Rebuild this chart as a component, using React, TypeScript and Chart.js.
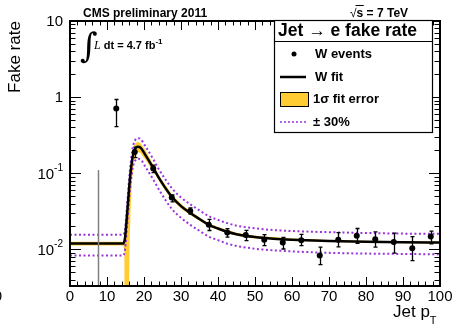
import React, { useEffect, useRef } from "react";
import { Chart, registerables } from "chart.js";

Chart.register(...registerables);

// ---- data ----
const binCenters = [12.5, 17.5, 22.5, 27.5, 32.5, 37.5, 42.5, 47.5, 52.5, 57.5, 62.5, 67.5, 72.5, 77.5, 82.5, 87.5, 92.5, 97.5];
const rateValues = [0.71, 0.19, 0.115, 0.048, 0.032, 0.021, 0.0166, 0.0154, 0.0134, 0.0123, 0.0132, 0.0083, 0.0134, 0.0151, 0.0136, 0.0125, 0.0103, 0.0147];
const rateErrUp = [0.93, 0.22, 0.128, 0.052, 0.035, 0.0247, 0.0187, 0.0178, 0.0156, 0.0144, 0.0157, 0.0107, 0.0166, 0.0188, 0.017, 0.0163, 0.0147, 0.0174];
const rateErrDown = [0.41, 0.16, 0.102, 0.042, 0.029, 0.0177, 0.0145, 0.013, 0.0112, 0.0101, 0.0112, 0.0063, 0.0108, 0.012, 0.0107, 0.0089, 0.0071, 0.0118];

// empty low bin: only its (grey) error bar upper end is visible
const greyBinX = 7.5;
const greyBinUp = 0.11;

const fitX = [0, 14.4, 14.9, 15.4, 15.9, 16.3, 16.8, 17.2, 17.7, 18.3, 19.0, 20.4, 22.6, 24.4, 27.5, 30, 32.5, 35, 37.5, 40, 42.5, 45, 50, 55, 60, 70, 80, 90, 100];
const fitY = [0.0119, 0.0119, 0.0145, 0.028, 0.057, 0.095, 0.15, 0.188, 0.212, 0.222, 0.218, 0.173, 0.115, 0.081, 0.049, 0.037, 0.03, 0.025, 0.021, 0.0188, 0.017, 0.0158, 0.0145, 0.0138, 0.0134, 0.0129, 0.0126, 0.0124, 0.0123];
const plus30Y = [0.0155, 0.0155, 0.0189, 0.0364, 0.074, 0.124, 0.195, 0.244, 0.276, 0.289, 0.283, 0.225, 0.15, 0.105, 0.064, 0.048, 0.039, 0.0325, 0.0273, 0.0244, 0.0221, 0.0205, 0.0189, 0.0179, 0.0174, 0.0168, 0.0164, 0.0161, 0.016];
const minus30Y = [0.0083, 0.0083, 0.0102, 0.0196, 0.04, 0.067, 0.105, 0.132, 0.148, 0.155, 0.153, 0.121, 0.081, 0.057, 0.034, 0.026, 0.021, 0.0175, 0.0147, 0.0132, 0.0119, 0.0111, 0.0102, 0.0097, 0.0094, 0.009, 0.0088, 0.0087, 0.0086];

const bandX = [0, 14.4, 14.7, 14.85, 15.2, 15.6, 15.9, 16.1, 16.4, 16.8, 17.2, 17.7, 18.3, 19, 20.4, 22.6, 24.4, 27.5, 30, 32.5, 35, 37.5, 40, 45, 50, 60, 70, 80, 90, 100];
const bandUp = [0.0126, 0.0126, 0.015, 0.0185, 0.028, 0.048, 0.07, 0.088, 0.125, 0.18, 0.225, 0.25, 0.26, 0.25, 0.2, 0.127, 0.088, 0.053, 0.0395, 0.0318, 0.0263, 0.022, 0.0197, 0.0165, 0.0151, 0.0139, 0.0133, 0.013, 0.0128, 0.0127];
const bandDown = [0.0112, 0.0112, 0.0095, 0.002, 0.002, 0.002, 0.002, 0.012, 0.035, 0.085, 0.135, 0.17, 0.19, 0.186, 0.15, 0.104, 0.074, 0.045, 0.0345, 0.0282, 0.0237, 0.02, 0.0179, 0.0151, 0.0139, 0.0129, 0.0125, 0.0122, 0.012, 0.0119];

const xMin = 0;
const xMax = 100;
const yMin = 0.0033;
const yMax = 10;
const xTickLabels = ["0", "10", "20", "30", "40", "50", "60", "70", "80", "90", "100"];
const yTickDecades = [1, 0, -1, -2];

const legendTitle = "Jet \u2192 e fake rate";
const legendLabels = ["W events", "W fit", "1\u03c3 fit error", "\u00b1 30%"];

const YELLOW = "#ffcc33";
const PURPLE = "#9933dd";
const FONT = "'Liberation Sans', Arial, Helvetica, sans-serif";

const pts = (xs: number[], ys: number[]) => xs.map((x, i) => ({ x, y: ys[i] }));

const rootPlugin = {
  id: "rootStyle",
  afterDatasetsDraw(chart: any) {
    const ctx = chart.ctx;
    const xs = chart.scales.x;
    const ys = chart.scales.y;
    const { top, bottom } = chart.chartArea;
    ctx.save();
    // grey bar of the empty bin
    ctx.strokeStyle = "#808080";
    ctx.lineWidth = 1.5;
    const gx = Math.round(xs.getPixelForValue(greyBinX)) + 0.5;
    ctx.beginPath();
    ctx.moveTo(gx, ys.getPixelForValue(greyBinUp));
    ctx.lineTo(gx, bottom);
    ctx.stroke();
    // error bars
    ctx.strokeStyle = "#000";
    ctx.lineWidth = 1.3;
    binCenters.forEach((x, i) => {
      const px = Math.round(xs.getPixelForValue(x)) + 0.5;
      const y1 = Math.max(top, ys.getPixelForValue(rateErrUp[i]));
      const y2 = Math.min(bottom, ys.getPixelForValue(rateErrDown[i]));
      ctx.beginPath();
      ctx.moveTo(px, y1);
      ctx.lineTo(px, y2);
      ctx.moveTo(px - 2, y1);
      ctx.lineTo(px + 2, y1);
      ctx.moveTo(px - 2, y2);
      ctx.lineTo(px + 2, y2);
      ctx.stroke();
    });
    ctx.restore();
  },
  afterDraw(chart: any) {
    const ctx = chart.ctx;
    const xs = chart.scales.x;
    const ys = chart.scales.y;
    const { left, right, top, bottom } = chart.chartArea;
    ctx.save();
    // ticks
    ctx.strokeStyle = "#000";
    ctx.lineWidth = 1;
    ctx.beginPath();
    for (let v = xMin; v <= xMax; v += 2) {
      const px = Math.round(xs.getPixelForValue(v)) + 0.5;
      const L = v % 10 === 0 ? 9 : 4.5;
      ctx.moveTo(px, bottom);
      ctx.lineTo(px, bottom - L);
      ctx.moveTo(px, top);
      ctx.lineTo(px, top + L);
    }
    for (let e = -3; e <= 1; e++) {
      for (let m = 1; m <= 9; m++) {
        const v = m * Math.pow(10, e);
        if (v < yMin || v > yMax * 1.0001) continue;
        const py = Math.round(ys.getPixelForValue(v)) + 0.5;
        const L = m === 1 ? 11 : 5.5;
        ctx.moveTo(left, py);
        ctx.lineTo(left + L, py);
        ctx.moveTo(right, py);
        ctx.lineTo(right - L, py);
      }
    }
    ctx.stroke();
    // frame
    ctx.lineWidth = 2;
    ctx.strokeRect(left, top, right - left, bottom - top);

    // tick labels
    ctx.fillStyle = "#000";
    ctx.font = `15px ${FONT}`;
    ctx.textAlign = "center";
    ctx.textBaseline = "middle";
    xTickLabels.forEach((t) => {
      ctx.fillText(t, xs.getPixelForValue(Number(t)), bottom + 11);
    });
    // y labels
    ctx.textAlign = "right";
    yTickDecades.forEach((e) => {
      const py = ys.getPixelForValue(Math.pow(10, e));
      const xr = left - 7;
      if (e === 1) {
        ctx.font = `15px ${FONT}`;
        ctx.fillText("10", xr, py + 1);
      } else if (e === 0) {
        ctx.font = `15px ${FONT}`;
        ctx.fillText("1", xr, py + 1);
      } else {
        ctx.font = `10px ${FONT}`;
        const expStr = String(e);
        const ew = ctx.measureText(expStr).width;
        ctx.fillText(expStr, xr, py - 5);
        ctx.font = `15px ${FONT}`;
        ctx.fillText("10", xr - ew, py + 2);
      }
    });
    // clipped remnant at far left bottom
    ctx.font = `15px ${FONT}`;
    ctx.textAlign = "right";
    ctx.fillText("0", 2, 297);

    // axis titles
    ctx.font = `17px ${FONT}`;
    ctx.save();
    ctx.translate(15, 57);
    ctx.rotate(-Math.PI / 2);
    ctx.textAlign = "center";
    ctx.textBaseline = "middle";
    ctx.fillText("Fake rate", 0, 0);
    ctx.restore();

    ctx.textBaseline = "alphabetic";
    ctx.textAlign = "left";
    ctx.font = `17px ${FONT}`;
    ctx.fillText("Jet p", 393, 317);
    const jw = ctx.measureText("Jet p").width;
    ctx.font = `11px ${FONT}`;
    ctx.fillText("T", 393 + jw, 324);

    // header texts
    ctx.font = `bold 12px ${FONT}`;
    ctx.textAlign = "left";
    ctx.fillText("CMS preliminary 2011", 83, 17);
    const sx = 350;
    ctx.font = `12px ${FONT}`;
    ctx.fillText("\u221a", sx, 17);
    const rw = ctx.measureText("\u221a").width;
    ctx.font = `bold 12px ${FONT}`;
    ctx.fillText("s = 7 TeV", sx + rw, 17);
    const sw = ctx.measureText("s").width;
    ctx.lineWidth = 1;
    ctx.beginPath();
    ctx.moveTo(sx + rw - 1, 5.5);
    ctx.lineTo(sx + rw + sw + 0.5, 5.5);
    ctx.stroke();

    // luminosity
    ctx.font = `34px 'DejaVu Serif', serif`;
    ctx.fillText("\u222b", 80, 57);
    ctx.font = `italic 12px 'Liberation Serif', 'Times New Roman', serif`;
    ctx.fillText("L", 94, 49);
    const lw = ctx.measureText("L").width;
    ctx.font = `bold 11px ${FONT}`;
    const lumi = " dt = 4.7 fb";
    ctx.fillText(lumi, 94 + lw, 49);
    const luw = ctx.measureText(lumi).width;
    ctx.font = `bold 8px ${FONT}`;
    ctx.fillText("-1", 94 + lw + luw, 44);

    // legend
    const lx1 = 274, lx2 = 432, ly1 = 20, ly2 = 132;
    ctx.fillStyle = "#fff";
    ctx.fillRect(lx1, ly1, lx2 - lx1, ly2 - ly1);
    ctx.strokeStyle = "#000";
    ctx.lineWidth = 1.2;
    ctx.strokeRect(lx1 + 0.5, ly1 + 0.5, lx2 - lx1, ly2 - ly1);
    ctx.beginPath();
    ctx.moveTo(lx1, 41.5);
    ctx.lineTo(lx2, 41.5);
    ctx.stroke();
    ctx.fillStyle = "#000";
    ctx.font = `bold 17.5px ${FONT}`;
    ctx.textAlign = "left";
    ctx.textBaseline = "middle";
    ctx.fillText(legendTitle, 278, 31);

    const rowY = [54, 77, 99, 122];
    // W events marker
    ctx.beginPath();
    ctx.arc(294, rowY[0], 2.5, 0, Math.PI * 2);
    ctx.fill();
    // W fit line
    ctx.lineWidth = 2.5;
    ctx.beginPath();
    ctx.moveTo(280, rowY[1]);
    ctx.lineTo(306, rowY[1]);
    ctx.stroke();
    // band box
    ctx.fillStyle = YELLOW;
    ctx.fillRect(280, 92, 28, 14);
    ctx.lineWidth = 1;
    ctx.strokeRect(280.5, 92.5, 28, 14);
    // dotted purple
    ctx.strokeStyle = PURPLE;
    ctx.lineWidth = 1.5;
    ctx.setLineDash([2, 2]);
    ctx.beginPath();
    ctx.moveTo(280, rowY[3]);
    ctx.lineTo(306, rowY[3]);
    ctx.stroke();
    ctx.setLineDash([]);

    ctx.fillStyle = "#000";
    ctx.font = `bold 13px ${FONT}`;
    ctx.fillText(legendLabels[0], 315, rowY[0]);
    ctx.fillText(legendLabels[1], 315, rowY[1]);
    ctx.fillText(legendLabels[2], 313, rowY[2]);
    ctx.fillText(legendLabels[3], 313, rowY[3]);

    ctx.restore();
  },
};

export default function App() {
  const ref = useRef<HTMLCanvasElement | null>(null);
  useEffect(() => {
    if (!ref.current) return;
    const chart = new Chart(ref.current, {
      type: "line",
      data: {
        datasets: [
          {
            label: "W events",
            data: pts(binCenters, rateValues),
            showLine: false,
            pointRadius: 3,
            pointBackgroundColor: "#000",
            pointBorderColor: "#000",
            pointBorderWidth: 0,
            order: 1,
          },
          {
            label: "W fit",
            data: pts(fitX, fitY),
            borderColor: "#000",
            borderWidth: 2.5,
            pointRadius: 0,
            cubicInterpolationMode: "monotone",
            fill: false,
            order: 2,
          },
          {
            label: "+30%",
            data: pts(fitX, plus30Y),
            borderColor: PURPLE,
            borderWidth: 2,
            borderDash: [2, 2.5],
            pointRadius: 0,
            cubicInterpolationMode: "monotone",
            fill: false,
            order: 3,
          },
          {
            label: "-30%",
            data: pts(fitX, minus30Y),
            borderColor: PURPLE,
            borderWidth: 2,
            borderDash: [2, 2.5],
            pointRadius: 0,
            cubicInterpolationMode: "monotone",
            fill: false,
            order: 3,
          },
          {
            label: "band up",
            data: pts(bandX, bandUp),
            borderColor: YELLOW,
            borderWidth: 0,
            backgroundColor: YELLOW,
            pointRadius: 0,
            fill: "+1",
            order: 5,
          },
          {
            label: "band down",
            data: pts(bandX, bandDown),
            borderColor: YELLOW,
            borderWidth: 0,
            backgroundColor: YELLOW,
            pointRadius: 0,
            fill: false,
            order: 5,
          },
        ],
      },
      options: {
        responsive: false,
        animation: false,
        devicePixelRatio: 1,
        layout: { padding: { left: 70, top: 21, right: 14, bottom: 38 } },
        plugins: { legend: { display: false }, tooltip: { enabled: false }, title: { display: false } },
        scales: {
          x: { type: "linear", min: xMin, max: xMax, display: false },
          y: { type: "logarithmic", min: yMin, max: yMax, display: false },
        },
      },
      plugins: [rootPlugin],
    } as any);
    return () => chart.destroy();
  }, []);
  return (
    <div style={{ position: "absolute", left: 0, top: 0, width: 454, height: 324, background: "#fff" }}>
      <canvas ref={ref} width={454} height={324} style={{ width: 454, height: 324 }} />
    </div>
  );
}
